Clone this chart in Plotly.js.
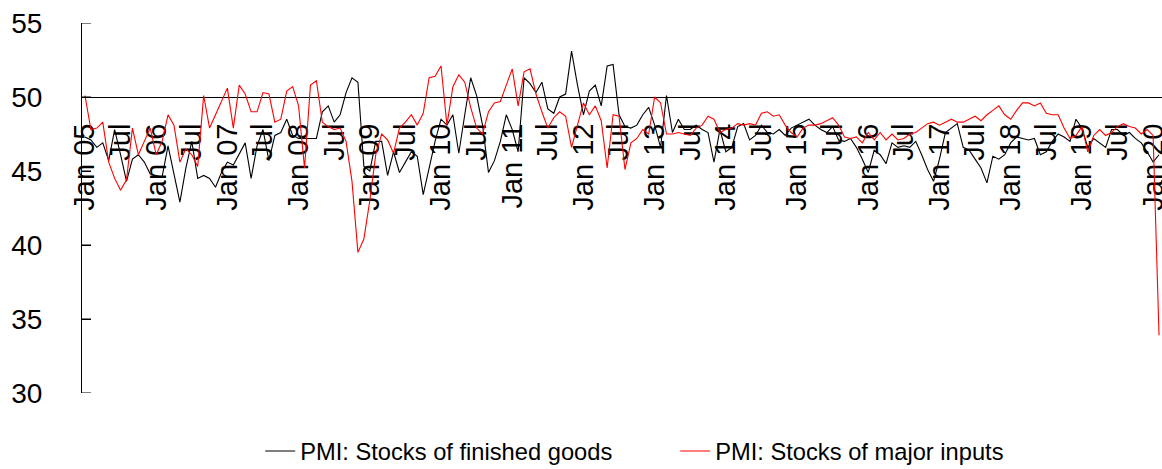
<!DOCTYPE html>
<html><head><meta charset="utf-8">
<script src="https://cdn.plot.ly/plotly-3.0.1.min.js"></script>
<style>html,body{margin:0;padding:0;background:#fff;}#chart{width:1162px;height:469px;}</style>
</head><body><div id="chart"></div>
<script>
const startYear = 2005;
const monthNames = ["Jan","Feb","Mar","Apr","May","Jun","Jul","Aug","Sep","Oct","Nov","Dec"];
const yTicks = [30, 35, 40, 45, 50, 55];

// PMI: Stocks of finished goods (Jan 2005 - Feb 2020)
const finishedGoods = [
  47.3,47.1,46.6,46.9,45.7,47.8,46.1,44.3,45.8,46.1,45.6,44.8,
  44.7,44.6,46.7,44.9,42.9,45.2,47.0,44.5,44.7,44.5,43.9,44.9,
  45.6,45.4,46.1,46.9,44.5,46.7,47.8,45.7,47.4,47.6,48.5,47.4,
  47.2,47.2,47.2,47.2,49.0,49.4,48.3,48.8,50.3,51.3,51.0,45.3,
  45.0,47.0,47.0,44.7,46.3,44.9,45.6,46.3,46.0,43.4,45.2,47.0,
  48.5,48.1,48.8,46.2,48.8,51.3,50.1,48.1,44.9,45.7,47.0,48.8,
  47.8,46.3,51.3,50.9,50.3,51.0,49.2,48.9,50.0,50.2,53.1,50.8,
  48.8,50.4,50.8,49.4,52.1,52.2,48.8,48.0,47.9,48.1,48.8,49.3,
  48.1,46.6,50.1,47.6,48.5,47.8,47.8,48.1,47.8,47.6,45.6,47.8,
  46.3,46.6,48.0,48.2,47.1,47.4,48.1,47.6,47.5,47.8,47.4,47.9,
  48.1,48.3,48.5,48.1,47.8,47.6,48.0,47.1,47.0,47.2,46.6,45.8,
  44.9,46.4,46.1,45.5,46.9,46.6,46.7,46.6,47.0,46.1,45.1,44.3,
  45.8,47.6,47.9,48.2,46.6,46.4,45.8,45.2,44.2,46.0,45.8,46.1,
  46.9,47.3,47.2,47.1,47.2,46.1,46.3,47.0,47.5,47.3,47.0,48.5,
  47.9,46.6,47.2,46.9,46.6,47.8,47.8,47.4,47.6,47.2,46.9,46.3,
  45.6,46.1
];

// PMI: Stocks of major inputs (Jan 2005 - Feb 2020)
const majorInputs = [
  50.1,47.8,47.9,48.3,45.6,44.5,43.7,44.4,47.9,46.1,47.0,47.9,
  46.1,47.0,48.8,48.1,45.6,46.5,46.1,45.3,50.1,47.9,48.8,49.7,
  50.6,47.9,50.8,50.2,49.0,49.0,50.3,50.2,48.3,48.5,50.4,50.7,
  49.4,45.2,50.8,51.1,48.3,48.0,47.8,47.9,47.0,44.3,39.5,40.4,
  43.0,46.1,47.5,47.1,46.2,47.9,48.3,48.8,48.1,48.9,51.3,51.4,
  52.1,48.1,50.7,51.5,51.0,49.3,47.9,47.5,49.0,49.6,49.7,50.8,
  51.9,49.4,51.7,51.9,50.2,49.0,47.9,48.6,49.0,48.7,46.6,48.1,
  49.6,48.8,49.4,48.4,45.2,48.8,48.7,45.1,46.9,47.2,47.8,47.5,
  50.0,49.6,47.5,47.5,47.6,47.5,47.4,47.9,48.1,48.7,48.5,47.6,
  47.8,47.9,48.2,48.1,48.2,48.1,48.9,49.0,48.7,48.8,48.1,47.6,
  47.3,47.9,48.1,48.1,48.2,48.4,48.6,48.1,47.3,47.2,47.3,46.9,
  47.6,47.1,47.6,47.1,47.5,47.1,47.2,47.5,47.6,47.9,48.2,48.3,
  48.1,48.3,48.5,48.3,48.3,48.5,48.7,48.4,48.8,49.1,49.4,48.8,
  48.5,49.1,49.6,49.6,49.4,49.6,48.9,48.8,48.8,47.9,47.2,47.4,
  48.0,46.3,47.4,47.8,47.4,47.6,48.0,48.2,48.0,47.9,47.5,47.8,
  47.4,33.9
];

const months = [];
for (let k = 0; k < finishedGoods.length; k++) {
  const yr = String(startYear + Math.floor(k / 12)).slice(2);
  months.push(monthNames[k % 12] + " " + yr);
}
const tickVals = months.filter((m, k) => k % 6 === 0);
const tickText = tickVals.map(m => m.startsWith("Jul") ? "Jul" : m);

const FONT = "Liberation Sans, Arial, sans-serif";

const traces = [
  {x: months, y: finishedGoods, type: "scatter", mode: "lines",
   name: "PMI: Stocks of finished goods", line: {color: "#000000", width: 1.1}},
  {x: months, y: majorInputs, type: "scatter", mode: "lines",
   name: "PMI: Stocks of major inputs", line: {color: "#ff0000", width: 1.1}}
];

// small inside tick marks on the value axis
const tickShapes = yTicks.map(v => ({
  type: "line", xref: "paper", yref: "y", x0: 0, x1: 9 / 1080, y0: v, y1: v,
  line: {color: "#000", width: 1}, layer: "above"
}));

const layout = {
  width: 1162, height: 469,
  margin: {l: 82, r: 0, t: 23, b: 76, pad: 0, autoexpand: false},
  paper_bgcolor: "#ffffff", plot_bgcolor: "#ffffff",
  font: {family: FONT, color: "#000000"},
  showlegend: true,
  legend: {orientation: "h", x: 0.165, xanchor: "left", y: -0.157, yanchor: "middle",
           font: {family: FONT, size: 23.7, color: "#000"}, itemwidth: 30, traceorder: "normal",
           entrywidth: 370, entrywidthmode: "pixels"},
  shapes: tickShapes,
  xaxis: {
    type: "category", range: [-0.5, months.length - 0.5],
    anchor: "free", position: 0.8,
    showline: true, linecolor: "#000", linewidth: 1,
    showgrid: false, zeroline: false, ticks: "",
    tickmode: "array", tickvals: tickVals, ticktext: tickText,
    tickangle: -90, tickfont: {family: FONT, size: 29, color: "#000"},
    ticklabelstandoff: 14, layer: "below traces", automargin: false
  },
  yaxis: {
    range: [30, 55], tickmode: "array", tickvals: yTicks,
    showline: true, linecolor: "#000", linewidth: 1,
    showgrid: false, zeroline: false,
    ticks: "inside", ticklen: 9, tickwidth: 1, tickcolor: "#000",
    tickfont: {family: FONT, size: 28, color: "#000"},
    ticklabelstandoff: 33, automargin: false
  }
};

Plotly.newPlot("chart", traces, layout, {displayModeBar: false, staticPlot: true});
</script>
</body></html>
